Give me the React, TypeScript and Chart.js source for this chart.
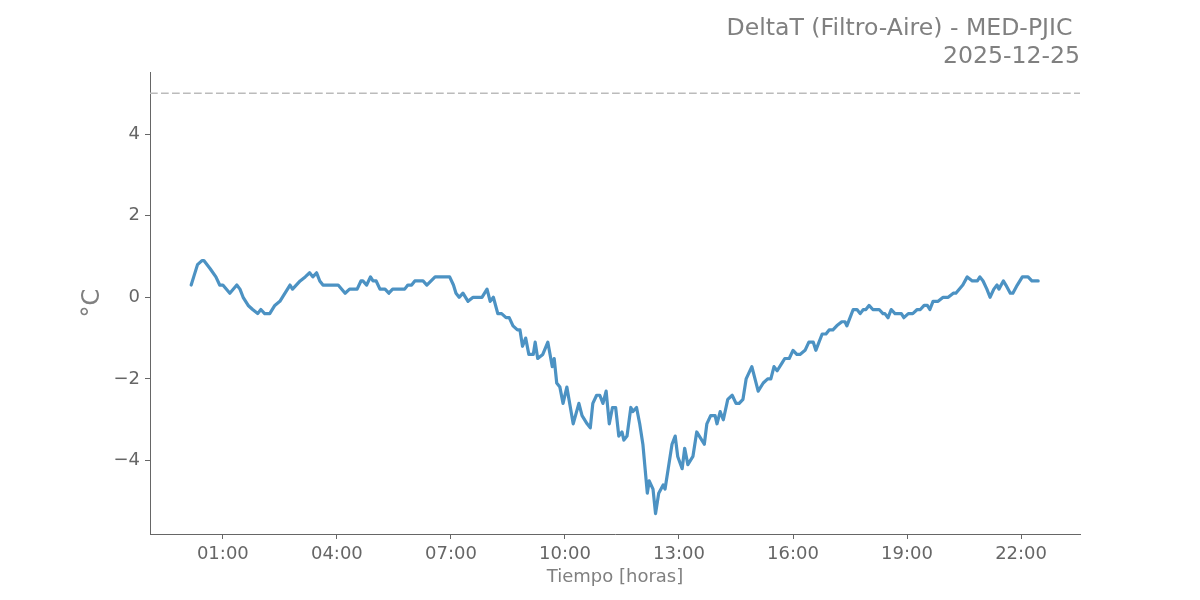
import React, { useEffect, useRef } from "react";
import { Chart, registerables } from "chart.js";

Chart.register(...registerables);

// minutes since midnight
const minutes: number[] = [
  10, 14, 20, 27, 30, 40, 49, 55, 60, 71, 82, 87, 92, 100, 107, 115, 120, 126, 134, 142,
  150, 166, 170, 182, 190, 197, 202, 208, 213, 218, 242, 253, 260, 272, 278, 281, 287, 293, 297, 302,
  308, 316, 322, 328, 347, 352, 358, 363, 376, 382, 395, 418, 424, 428, 433, 439, 447, 455, 469, 477,
  482, 487, 494, 500, 507, 512, 518, 525, 529, 533, 538, 543, 550, 553, 557, 565, 573, 580, 583, 587,
  592, 597, 603, 613, 622, 627, 635, 640, 644, 650, 655, 660, 665, 670, 675, 680, 685, 690, 693, 698,
  704, 707, 713, 718, 723, 730, 733, 739, 743, 748, 755, 758, 763, 769, 774, 778, 785, 789, 794, 802,
  808, 816, 820, 824, 830, 837, 840, 845, 850, 857, 864, 870, 875, 881, 886, 895, 905, 913, 920, 925,
  930, 935, 943, 947, 954, 960, 966, 971, 979, 985, 992, 996, 1006, 1012, 1017, 1023, 1029, 1037, 1042, 1045,
  1055, 1061, 1066, 1071, 1075, 1080, 1086, 1096, 1102, 1105, 1110, 1115, 1121, 1131, 1135, 1142, 1149, 1156, 1161, 1167,
  1172, 1176, 1181, 1189, 1197, 1205, 1213, 1217, 1228, 1235, 1243, 1251, 1255, 1260, 1266, 1271, 1277, 1282, 1285, 1292,
  1296, 1303, 1307, 1314, 1322, 1331, 1337, 1347,
];

const deltaT: number[] = [
  0.3, 0.5, 0.8, 0.9, 0.9, 0.7, 0.5, 0.3, 0.3, 0.1, 0.3, 0.2, 0.0, -0.2, -0.3, -0.4, -0.3, -0.4, -0.4, -0.2,
  -0.1, 0.3, 0.2, 0.4, 0.5, 0.6, 0.5, 0.6, 0.4, 0.3, 0.3, 0.1, 0.2, 0.2, 0.4, 0.4, 0.3, 0.5, 0.4, 0.4,
  0.2, 0.2, 0.1, 0.2, 0.2, 0.3, 0.3, 0.4, 0.4, 0.3, 0.5, 0.5, 0.3, 0.1, 0.0, 0.1, -0.1, 0.0, 0.0, 0.2,
  -0.1, 0.0, -0.4, -0.4, -0.5, -0.5, -0.7, -0.8, -0.8, -1.2, -1.0, -1.4, -1.4, -1.1, -1.5, -1.4, -1.1, -1.7, -1.5, -2.1,
  -2.2, -2.6, -2.2, -3.1, -2.6, -2.9, -3.1, -3.2, -2.6, -2.4, -2.4, -2.6, -2.3, -3.1, -2.7, -2.7, -3.4, -3.3, -3.5, -3.4,
  -2.7, -2.8, -2.7, -3.1, -3.6, -4.8, -4.5, -4.7, -5.3, -4.8, -4.6, -4.7, -4.2, -3.6, -3.4, -3.9, -4.2, -3.7, -4.1, -3.9,
  -3.3, -3.5, -3.6, -3.1, -2.9, -2.9, -3.1, -2.8, -3.0, -2.5, -2.4, -2.6, -2.6, -2.5, -2.0, -1.7, -2.3, -2.1, -2.0, -2.0,
  -1.7, -1.8, -1.6, -1.5, -1.5, -1.3, -1.4, -1.4, -1.3, -1.1, -1.1, -1.3, -0.9, -0.9, -0.8, -0.8, -0.7, -0.6, -0.6, -0.7,
  -0.3, -0.3, -0.4, -0.3, -0.3, -0.2, -0.3, -0.3, -0.4, -0.4, -0.5, -0.3, -0.4, -0.4, -0.5, -0.4, -0.4, -0.3, -0.3, -0.2,
  -0.2, -0.3, -0.1, -0.1, 0.0, 0.0, 0.1, 0.1, 0.3, 0.5, 0.4, 0.4, 0.5, 0.4, 0.2, 0.0, 0.2, 0.3, 0.2, 0.4,
  0.3, 0.1, 0.1, 0.3, 0.5, 0.5, 0.4, 0.4,
];

const xTicks: number[] = [60, 240, 420, 600, 780, 960, 1140, 1320];
const yTicks: number[] = [-4, -2, 0, 2, 4];
const thresholdValue = 5;
const xMin = -55;
const xMax = 1413;
const yMin = -5.8;
const yMax = 5.52;
const titleLines: string[] = ["DeltaT (Filtro-Aire) - MED-PJIC ", "2025-12-25"];

const FONT = "'DejaVu Sans', sans-serif";

const fmtTime = (m: number) => {
  const h = Math.floor(m / 60);
  const mm = Math.round(m - h * 60);
  return String(h).padStart(2, "0") + ":" + String(mm).padStart(2, "0");
};

const titlePlugin = {
  id: "rightTitle",
  afterDraw(chart: any) {
    const ctx = chart.ctx;
    ctx.save();
    ctx.font = `23.6px ${FONT}`;
    ctx.fillStyle = "#808080";
    ctx.textAlign = "right";
    ctx.textBaseline = "alphabetic";
    const right = chart.chartArea.right;
    ctx.fillText(titleLines[0], right, 35);
    ctx.fillText(titleLines[1], right, 63);
    ctx.restore();
  },
};

export default function App() {
  const ref = useRef<HTMLCanvasElement | null>(null);
  useEffect(() => {
    document.body.style.margin = "0";
    const canvas = ref.current;
    if (!canvas) return;
    const chart = new Chart(canvas, {
      type: "line",
      data: {
        datasets: [
          {
            data: minutes.map((m, i) => ({ x: m, y: deltaT[i] })),
            borderColor: "#4C92C3",
            borderWidth: 3.2,
            pointRadius: 0,
            tension: 0,
            borderJoinStyle: "round",
            borderCapStyle: "round",
          },
          {
            data: [
              { x: xMin, y: thresholdValue },
              { x: xMax, y: thresholdValue },
            ],
            borderColor: "#bbbbbb",
            borderWidth: 1.5,
            borderDash: [7.7, 3.3],
            pointRadius: 0,
          },
        ],
      },
      plugins: [titlePlugin],
      options: {
        animation: false,
        responsive: false,
        layout: { padding: { top: 72, right: 120, left: 0, bottom: 0 } },
        plugins: {
          legend: { display: false },
          tooltip: { enabled: false },
          title: { display: false },
        },
        scales: {
          x: {
            type: "linear",
            min: xMin,
            max: xMax,
            afterBuildTicks: (s: any) => {
              s.ticks = xTicks.map((v) => ({ value: v }));
            },
            afterFit: (s: any) => {
              s.height = 66;
            },
            ticks: {
              callback: (v: any) => fmtTime(Number(v)),
              font: { family: FONT, size: 18 },
              color: "#666666",
              padding: 5,
              maxRotation: 0,
              autoSkip: false,
            },
            grid: {
              display: true,
              drawOnChartArea: false,
              drawTicks: true,
              tickLength: 5,
              color: "#666666",
            },
            border: { display: true, color: "#666666", width: 1 },
            title: {
              display: true,
              text: "Tiempo [horas]",
              font: { family: FONT, size: 18 },
              color: "#808080",
              padding: { top: 0, bottom: 12 },
            },
          },
          y: {
            type: "linear",
            min: yMin,
            max: yMax,
            afterBuildTicks: (s: any) => {
              s.ticks = yTicks.map((v) => ({ value: v }));
            },
            afterFit: (s: any) => {
              s.width = 150;
            },
            ticks: {
              callback: (v: any) => {
                const n = Number(v);
                return n < 0 ? "\u2212" + Math.abs(n) : String(n);
              },
              font: { family: FONT, size: 18 },
              color: "#666666",
              padding: 5,
              autoSkip: false,
            },
            grid: {
              display: true,
              drawOnChartArea: false,
              drawTicks: true,
              tickLength: 5,
              color: "#666666",
            },
            border: { display: true, color: "#666666", width: 1 },
            title: {
              display: true,
              text: "°C",
              font: { family: FONT, size: 24 },
              color: "#808080",
              padding: { top: 78, bottom: 0 },
            },
          },
        },
      },
    } as any);
    return () => chart.destroy();
  }, []);
  return (
    <div style={{ width: 1200, height: 600 }}>
      <canvas ref={ref} width={1200} height={600} />
    </div>
  );
}
